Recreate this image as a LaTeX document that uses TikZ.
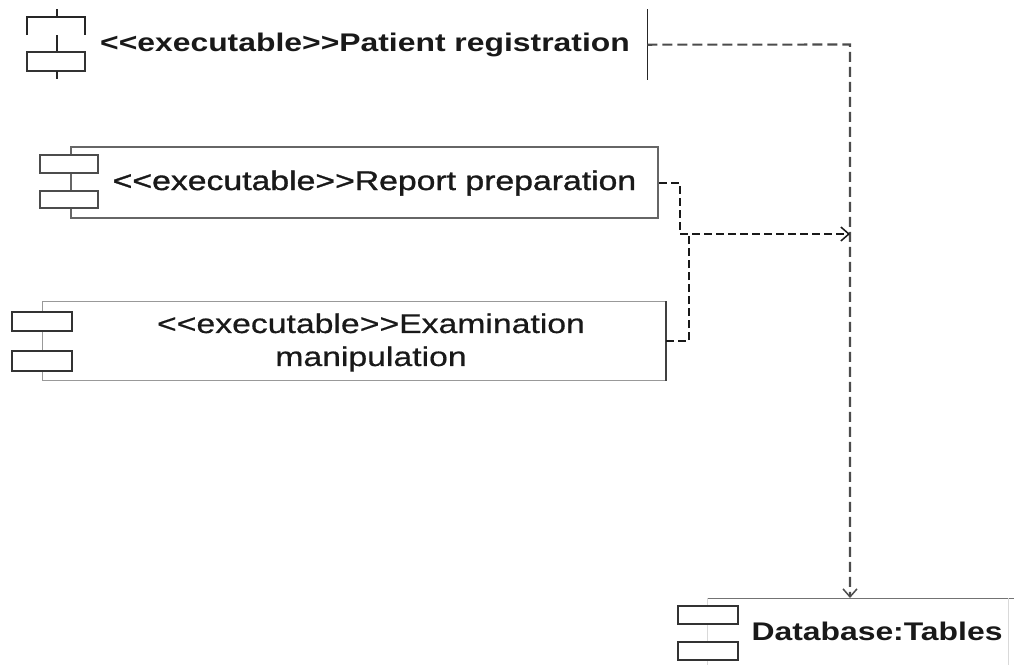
\documentclass[tikz,border=0pt]{standalone}
\usepackage{fontspec}
\setmainfont{Liberation Sans}[FakeStretch=1.25]
\newfontfamily\mediumfont{Liberation Sans}[FakeStretch=1.25, FakeBold=1.2]
\newfontfamily\bookfont{Liberation Sans}[FakeStretch=1.25, FakeBold=0.6]
\usetikzlibrary{arrows.meta}
\begin{document}
\begin{tikzpicture}[x=1pt,y=-1pt,
  body/.style={inner sep=0pt, anchor=north west},
  boldlbl/.style={inner sep=0pt, anchor=base, text=black!90, font=\bfseries\fontsize{25.5}{30}\selectfont},
  plainlbl/.style={inner sep=0pt, text=black!90, font=\fontsize{27}{33}\selectfont},
  iconline/.style={draw=black!85, line width=1.6pt},
  iconrect/.style={draw=black!80, line width=1.7pt, fill=white},
  dep/.style={draw=black!90, line width=1.7pt, dash pattern=on 8pt off 4pt},
  deplong/.style={draw=black!70, line width=2.1pt, dash pattern=on 10pt off 5pt},
  tip/.style={-{Straight Barb[length=8pt,width=14pt,line width=1.5pt]}}
]
\useasboundingbox (0,0) rectangle (1014,665);

% component bodies
\node[body, minimum width=590, minimum height=71] (pat) at (57,9) {};
\node[body, minimum width=587, minimum height=71, draw=black!60, line width=2.4pt] (rep) at (70,146) {};
\node[body, minimum width=623, minimum height=79, draw=black!40, line width=1pt] (exa) at (42,301) {};
\node[body, minimum width=301, minimum height=67] (db) at (707,598) {};

% Patient registration: outline and component icon
\draw[iconline] (pat.north east) -- (pat.south east);
\draw[iconline] (57,9) -- (57,17);
\draw[iconline] (27,35) -- (27,17) -- (85,17) -- (85,35);
\draw[iconline] (57,35) -- (57,52);
\draw[iconrect] (27,52) rectangle (85,71);
\draw[iconline] (57,71) -- (57,79);

% Report preparation icon
\draw[iconrect, draw=black!70, line width=2.2pt] (40,155) rectangle (98,173);
\draw[iconrect, draw=black!70, line width=2.2pt] (40,191) rectangle (98,208);

% Examination manipulation: darker right edge and icon
\draw[draw=black!75, line width=1.6pt] (exa.north east) -- (exa.south east);
\draw[iconrect, line width=1.5pt] (12,312) rectangle (72,331);
\draw[iconrect, line width=1.5pt] (12,351) rectangle (72,371);

% Database:Tables outline and icon
\draw[draw=black!55, line width=1pt] (db.north west) -- (1014,598);
\draw[draw=black!15, line width=0.8pt] (db.north west) -- (db.south west);
\draw[draw=black!15, line width=0.8pt] (db.north east) -- (db.south east);
\draw[iconrect, line width=1.7pt] (678,606) rectangle (738,624);
\draw[iconrect, line width=1.7pt] (678,642) rectangle (738,660);

% labels
\node[boldlbl] (patt) at (365,51) {<{}<executable>{}>Patient registration};
\node[plainlbl, anchor=base, font=\mediumfont\fontsize{27}{33}\selectfont] (rept) at (374.5,190) {<{}<executable>{}>Report preparation};
\node[plainlbl, align=center, font=\bookfont\fontsize{27}{33}\selectfont] (exat) at (371,342.5) {<{}<executable>{}>Examination\\manipulation};
\node[boldlbl] (dbt) at (877,640) {Database:Tables};

% dependencies
\coordinate (pc) at (850,44.5);
\coordinate (rj) at (680,234);
\coordinate (ej) at (689,234);
\draw[deplong, tip] (pat.east) -- (pc) -- (pc |- db.north);
\draw[dep, tip] (rep.east) -| (rj) -- (rj -| pc);
\draw[dep] (exa.east) -| (ej);
\end{tikzpicture}
\end{document}
